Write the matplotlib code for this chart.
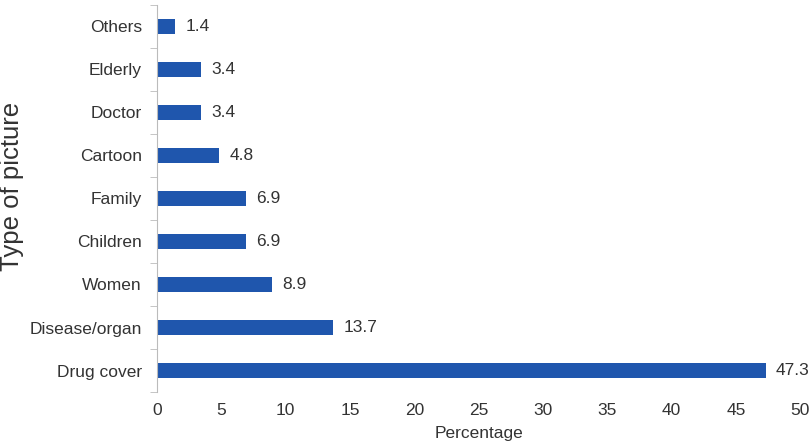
import numpy as np
import matplotlib
matplotlib.use("Agg")
import matplotlib.pyplot as plt

plt.rcParams["font.family"] = ["Liberation Sans", "DejaVu Sans"]

categories = ["Drug cover", "Disease/organ", "Women", "Children", "Family",
              "Cartoon", "Doctor", "Elderly", "Others"]
values = [47.3, 13.7, 8.9, 6.9, 6.9, 4.8, 3.4, 3.4, 1.4]
xticks = [0, 5, 10, 15, 20, 25, 30, 35, 40, 45, 50]

txt = "#333333"
fig = plt.figure(figsize=(8.1, 4.46), dpi=100)
ax = fig.add_axes([0.194, 0.121, 0.794, 0.868])

y = np.arange(len(categories))
ax.barh(y, values, height=0.34, color="#1f56ad")
for yi, v in zip(y, values):
    ax.text(v + 0.8, yi, str(v), va="center", ha="left", fontsize=12.5, color=txt)

ax.set_xlim(0, 50)
ax.set_ylim(-0.5, len(categories) - 0.5)
ax.set_xticks(xticks)
ax.set_yticks(y)
ax.set_yticklabels(categories)
ax.set_yticks(np.arange(-0.5, len(categories)), minor=True)
ax.tick_params(axis="y", which="major", length=0, pad=11, labelsize=12.5, labelcolor=txt)
ax.tick_params(axis="y", which="minor", length=5, color="#bbbbbb")
ax.tick_params(axis="x", length=0, pad=8, labelsize=12.5, labelcolor=txt)

for s in ["top", "right", "bottom"]:
    ax.spines[s].set_visible(False)
ax.spines["left"].set_color("#bbbbbb")

ax.set_xlabel("Percentage", fontsize=12.5, color=txt, labelpad=6)
ax.set_ylabel("Type of picture", fontsize=18.5, color=txt, va="center")
ax.yaxis.set_label_coords(-0.225, 0.53)

fig.savefig("out.png", dpi=100)
